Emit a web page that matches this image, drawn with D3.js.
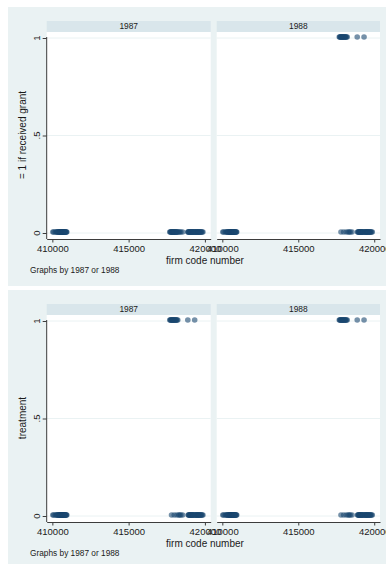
<!DOCTYPE html>
<html>
<head>
<meta charset="utf-8">
<script src="https://cdn.jsdelivr.net/npm/d3@7"></script>
<style>
  html, body { margin: 0; padding: 0; background: #ffffff; }
  svg { display: block; }
  text { font-family: "Liberation Sans", Arial, sans-serif; fill: #1a1a1a; }
</style>
</head>
<body>
<svg id="chart" width="386" height="564"></svg>
<script>
// Firm codes (one entry per firm)
const firmCodes = [
  410032, 410085, 410190, 410248, 410290, 410330, 410362, 410395, 410423, 410440,
  410467, 410495, 410500, 410509, 410521, 410538, 410563, 410580, 410597, 410612,
  410626, 410640, 410655, 410672, 410685, 410700, 410718, 410735, 410752, 410770,
  410789, 410808, 410825, 410846, 410868, 410890, 410915, 410947,
  417700, 417735, 417768, 417790, 417812, 417830, 417862, 417885, 417910, 417945,
  417970, 417990, 418011, 418040, 418071, 418100, 418135, 418160, 418170, 418221,
  418290, 418350, 418425, 418540,
  418880, 418905, 418930, 418960, 418985, 419010, 419040, 419065, 419090, 419112,
  419140, 419165, 419190, 419212, 419240, 419262, 419290, 419330, 419360, 419385,
  419410, 419440, 419462, 419490, 419515, 419540, 419568, 419595, 419620, 419650,
  419680, 419710, 419740, 419775, 419820, 419870
];

// Firms with grant = 1, by year
const grant1987 = [];
const grant1988 = [
  417700, 417735, 417768, 417790, 417830, 417862, 417885, 417910, 417945, 417970,
  418011, 418040, 418071, 418100, 418135, 418170, 418221, 418880, 419330
];
// Firms in the treatment group
const treatment = grant1988.slice();

const years = ["1987", "1988"];
const xTicks = [410000, 415000, 420000];
const yTicks = [0, 0.5, 1];
const yTickLabels = ["0", ".5", "1"];

const graphs = [
  { title: "= 1 if received grant", byYear: [grant1987, grant1988] },
  { title: "treatment", byYear: [treatment, treatment] }
];

const svg = d3.select("#chart");
const C = {
  region: "#eaf2f3", strip: "#d9e6eb", grid: "#eaf2f3",
  axis: "#3c3c3c", marker: "#1a476f"
};

const panelX = [[46.7, 210.7], [216.7, 380]];
const xDomain = [409630, 420380];

function drawGraph(top, spec) {
  const g = svg.append("g").attr("transform", `translate(0,${top})`);

  g.append("rect").attr("x", 8).attr("y", 0).attr("width", 378).attr("height", 279)
    .attr("fill", C.region);

  const y = d3.scaleLinear().domain([0, 1]).range([226, 31]);
  const axisY = 232;

  spec.byYear.forEach((ones, i) => {
    const [x0, x1] = panelX[i];
    const x = d3.scaleLinear().domain(xDomain).range([x0, x1]);
    const p = g.append("g");

    // strip with year label
    p.append("rect").attr("x", x0).attr("y", 14).attr("width", x1 - x0).attr("height", 11)
      .attr("fill", C.strip);
    p.append("text").attr("x", (x0 + x1) / 2).attr("y", 19.5).attr("dy", "0.35em")
      .attr("text-anchor", "middle").attr("font-size", 8.4).text(years[i]);

    // plot region
    p.append("rect").attr("x", x0).attr("y", 25).attr("width", x1 - x0).attr("height", axisY - 25)
      .attr("fill", "#ffffff");

    // horizontal grid
    p.selectAll("line.grid").data(yTicks).join("line").attr("class", "grid")
      .attr("x1", x0).attr("x2", x1)
      .attr("y1", d => y(d)).attr("y2", d => y(d))
      .attr("stroke", C.grid).attr("stroke-width", 1);

    // markers
    const onesSet = new Set(ones);
    const pts = firmCodes.map(c => ({ code: c, v: onesSet.has(c) ? 1 : 0 }));
    p.selectAll("circle").data(pts).join("circle")
      .attr("cx", d => x(d.code)).attr("cy", d => y(d.v) - 1)
      .attr("r", 2.8).attr("fill", C.marker).attr("fill-opacity", 0.6);

    // x axis
    const xa = p.append("g").attr("transform", `translate(0,${axisY})`)
      .call(d3.axisBottom(x).tickValues(xTicks).tickFormat(d3.format("d"))
        .tickSize(3.5).tickPadding(3).tickSizeOuter(0));
    xa.select(".domain").attr("stroke", C.axis);
    xa.selectAll(".tick line").attr("stroke", C.axis);
    xa.selectAll("text").attr("font-size", 9.5).attr("fill", "#1a1a1a")
      .attr("font-family", "Liberation Sans, Arial, sans-serif");

    // y axis on the first panel only
    if (i === 0) {
      const ya = p.append("g").attr("transform", `translate(${x0},0)`)
        .call(d3.axisLeft(y).tickValues(yTicks).tickSize(4).tickFormat(() => ""));
      ya.select(".domain").attr("stroke", C.axis)
        .attr("d", `M0,${y(1) - 1}V${axisY}`);
      ya.selectAll(".tick line").attr("stroke", C.axis);
      p.selectAll("text.ytick").data(yTicks).join("text").attr("class", "ytick")
        .attr("transform", (d, k) => `translate(39.5,${y(d)}) rotate(-90)`)
        .attr("text-anchor", "middle").attr("font-size", 9.5)
        .text((d, k) => yTickLabels[k]);
    }
  });

  // axis titles and note
  g.append("text").attr("transform", "translate(25.5,128) rotate(-90)")
    .attr("text-anchor", "middle").attr("font-size", 10).text(spec.title);
  g.append("text").attr("x", 205).attr("y", 253).attr("dy", "0.35em")
    .attr("text-anchor", "middle").attr("font-size", 10).text("firm code number");
  g.append("text").attr("x", 30).attr("y", 263).attr("dy", "0.35em")
    .attr("font-size", 8.3).text("Graphs by 1987 or 1988");
}

drawGraph(7, graphs[0]);
drawGraph(290, graphs[1]);
</script>
</body>
</html>
